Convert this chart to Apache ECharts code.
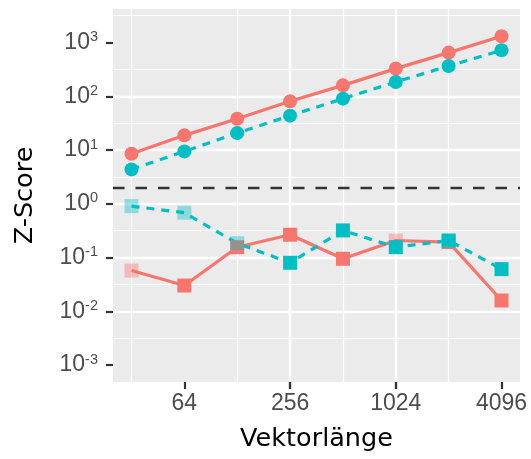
<!DOCTYPE html>
<html><head><meta charset="utf-8">
<script src="https://cdn.jsdelivr.net/npm/echarts@6/dist/echarts.min.js"></script>
<style>html,body{margin:0;padding:0;background:#fff}#c{width:531px;height:459px}</style>
</head><body><div id="c"></div>
<script>
// Vector lengths (x, log2 axis)
const vectorLengths = [32, 64, 128, 256, 512, 1024, 2048, 4096];
const xTickLabels = [64, 256, 1024, 4096];
const yTickExponents = [-3, -2, -1, 0, 1, 2, 3];
// Z-scores, circles (upper group)
const redCircle  = [8.57, 18.8, 38.4, 80.7, 160, 328, 651, 1310];
const tealCircle = [4.37, 9.46, 20.7, 43.7, 90.6, 185, 367, 719];
// Z-scores, squares (lower group)
const redSquare  = [0.0575, 0.0302, 0.156, 0.266, 0.095, 0.208, 0.194, 0.0159];
const tealSquare = [0.906, 0.683, 0.185, 0.080, 0.32, 0.156, 0.208, 0.061];
// point transparency of squares
const redSquareAlpha  = [0.4, 1, 1, 1, 1, 0.4, 1, 1];
const tealSquareAlpha = [0.4, 0.4, 0.4, 1, 1, 1, 1, 1];
const threshold = 1.96;

const RED = '#F8766D', TEAL = '#00BFC4';
const FONT = 'Liberation Sans';
const TFONT = 'DejaVu Sans';
const X_MIN = 4.65, X_MAX = 12.35;

function pts(vals, alpha) {
  return vals.map((v, i) => {
    const p = { value: [Math.log2(vectorLengths[i]), Math.log10(v)] };
    if (alpha) p.itemStyle = { opacity: alpha[i] };
    return p;
  });
}
function lineSeries(vals, color, dashed) {
  return { type: 'line', data: pts(vals), showSymbol: false, symbol: 'none', silent: true,
    lineStyle: { color: color, width: 3.2, type: dashed ? [8, 7] : 'solid' }, z: 10 };
}
function pointSeries(vals, color, symbol, alpha) {
  return { type: 'scatter', data: pts(vals, alpha), symbol: symbol, symbolSize: 14,
    itemStyle: { color: color, opacity: 1 }, z: 11 };
}

const series = [
  lineSeries(redCircle, RED, false),
  lineSeries(redSquare, RED, false),
  lineSeries(tealCircle, TEAL, true),
  lineSeries(tealSquare, TEAL, true),
  pointSeries(redCircle, RED, 'circle'),
  pointSeries(redSquare, RED, 'rect', redSquareAlpha),
  pointSeries(tealCircle, TEAL, 'circle'),
  pointSeries(tealSquare, TEAL, 'rect', tealSquareAlpha)
];
series[0].markLine = {
  silent: true, symbol: ['none', 'none'], label: { show: false },
  lineStyle: { color: '#333333', width: 2.4, type: [11.5, 11] },
  data: [{ yAxis: Math.log10(threshold) }]
};

const chart = echarts.init(document.getElementById('c'), null, { renderer: 'canvas' });
chart.setOption({
  animation: false,
  grid: [
    { left: 113, right: 11, top: 9, bottom: 77, show: true, backgroundColor: '#EBEBEB', borderWidth: 0 },
    { left: 113, right: 11, top: 382, height: 7, show: false }
  ],
  xAxis: [{
    type: 'value', min: X_MIN, max: X_MAX, position: 'bottom', z: 5,
    axisLine: { show: false, onZero: false },
    axisTick: { show: true, inside: false, customValues: xTickLabels.map(Math.log2), length: 7, lineStyle: { color: '#333333', width: 2.2 } },
    axisLabel: { customValues: xTickLabels.map(Math.log2), formatter: v => String(Math.round(Math.pow(2, v))),
      fontSize: 23, fontFamily: FONT, color: '#4D4D4D', margin: 10 },
    splitLine: { show: true, showMinLine: false, showMaxLine: false, lineStyle: { color: '#FFFFFF', width: 2.4 } },
    minorTick: { splitNumber: 2 },
    minorSplitLine: { show: true, lineStyle: { color: '#FFFFFF', width: 1.2 } },
    name: 'Vektorlänge', nameLocation: 'middle', nameGap: 44.5,
    nameTextStyle: { fontSize: 25.5, fontFamily: TFONT, color: '#000000' }
  }, {
    // tick marks below the panel, drawn as split lines of a thin strip grid
    gridIndex: 1, type: 'value', min: X_MIN, max: X_MAX,
    axisLine: { show: false, onZero: false },
    axisTick: { show: false, customValues: xTickLabels.map(Math.log2) },
    axisLabel: { show: false },
    splitLine: { show: true, showMinLine: false, showMaxLine: false, lineStyle: { color: '#333333', width: 2.2 } }
  }],
  yAxis: [{
    type: 'value', min: -3.315, max: 3.625, z: 5,
    axisLine: { show: false, onZero: false },
    axisTick: { show: true, inside: false, customValues: yTickExponents, length: 7, lineStyle: { color: '#333333', width: 2.2 } },
    axisLabel: { customValues: yTickExponents, formatter: v => '{b|10}{s|' + v + '}', margin: 15,
      rich: {
        b: { fontSize: 23, fontFamily: FONT, color: '#4D4D4D', lineHeight: 26 },
        s: { fontSize: 14.5, fontFamily: FONT, color: '#4D4D4D', lineHeight: 7, verticalAlign: 'top' }
      } },
    splitLine: { show: true, showMinLine: false, showMaxLine: false, lineStyle: { color: '#FFFFFF', width: 2.4 } },
    minorTick: { splitNumber: 2 },
    minorSplitLine: { show: true, lineStyle: { color: '#FFFFFF', width: 1.2 } },
    name: 'Z-Score', nameLocation: 'middle', nameGap: 75, nameRotate: 90,
    nameTextStyle: { fontSize: 25.5, fontFamily: TFONT, color: '#000000' }
  }, {
    gridIndex: 1, type: 'value', min: 0, max: 1, show: false
  }],
  series: series
});
</script></body></html>
